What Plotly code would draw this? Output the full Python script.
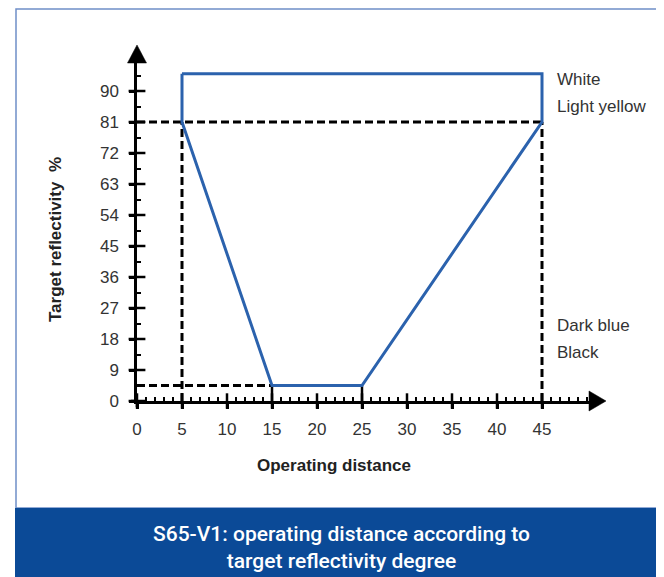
import plotly.graph_objects as go

# ---- data ----
x_ticks = [0, 5, 10, 15, 20, 25, 30, 35, 40, 45]
y_ticks = [0, 9, 18, 27, 36, 45, 54, 63, 72, 81, 90]
# operating area outline (distance, reflectivity %)
area_x = [5, 45, 45, 25, 15, 5, 5]
area_y = [95, 95, 81, 4.5, 4.5, 81, 95]
# dashed reference lines
ref81_x = [0, 45]
ref81_y = [81, 81]
ref_low_x = [0, 15]
ref_low_y = [4.5, 4.5]
vert5_x = [5, 5]
vert5_y = [0, 81]
vert45_x = [45, 45]
vert45_y = [0, 81]
colour_labels = ["White", "Light yellow", "Dark blue", "Black"]
colour_label_y = [93.2, 85.4, 21.8, 14.2]
banner_text = "S65-V1: operating distance according to<br>target reflectivity degree"

OFF = 8  # page body margin
W, H = 664 - OFF, 577 - OFF
ML = 137 - OFF
MT = 62 - OFF
MB = H - (401 - OFF)
MR = W - (591 - OFF)
PW, PH = W - ML - MR, H - MT - MB
XMAX = PW / 9.0
YMAX = PH / (310 / 90)

def px(xp):
    return (xp - OFF - ML) / PW

def py(yp):
    return (H - MB - (yp - OFF)) / PH

blue = "#2b62ad"
FONT = "Liberation Sans, Arial"
fig = go.Figure()

for xs, ys in [(ref81_x, ref81_y), (ref_low_x, ref_low_y), (vert5_x, vert5_y), (vert45_x, vert45_y)]:
    fig.add_trace(go.Scatter(x=xs, y=ys, mode="lines",
                             line=dict(color="black", width=3, dash="8px,4px"),
                             hoverinfo="skip", showlegend=False))
# short solid verticals at 15 and 25
for xv in [15, 25]:
    fig.add_trace(go.Scatter(x=[xv, xv], y=[0, 4.5], mode="lines",
                             line=dict(color="black", width=2.5),
                             hoverinfo="skip", showlegend=False))

fig.add_trace(go.Scatter(x=area_x, y=area_y, mode="lines",
                         line=dict(color=blue, width=3),
                         hoverinfo="skip", showlegend=False))

# major ticks crossing the axes
fig.add_trace(go.Scatter(x=x_ticks, y=[0] * len(x_ticks), mode="markers",
                         marker=dict(symbol="line-ns", size=11, line=dict(color="black", width=2.5)),
                         cliponaxis=False, hoverinfo="skip", showlegend=False))
fig.add_trace(go.Scatter(x=[0] * len(y_ticks), y=y_ticks, mode="markers",
                         marker=dict(symbol="line-ew", size=12, line=dict(color="black", width=2.5)),
                         cliponaxis=False, hoverinfo="skip", showlegend=False))

fig.update_xaxes(range=[0, XMAX], showgrid=False, zeroline=False,
                 showline=True, linecolor="black", linewidth=2.5,
                 tickvals=x_ticks, ticktext=[str(v) for v in x_ticks],
                 ticks="outside", ticklen=5, tickwidth=2.5, tickcolor="black",
                 minor=dict(dtick=1, tick0=0, ticks="inside", ticklen=4, tickwidth=2, tickcolor="black"),
                 tickfont=dict(family=FONT, size=17, color="#333333"),
                 ticklabelstandoff=6, fixedrange=True)
fig.update_yaxes(range=[0, YMAX], showgrid=False, zeroline=False,
                 showline=True, linecolor="black", linewidth=2.5,
                 tickvals=y_ticks, ticktext=[str(v) for v in y_ticks],
                 ticks="outside", ticklen=5, tickwidth=2.5, tickcolor="black",
                 minor=dict(dtick=4.5, tick0=0, ticks="inside", ticklen=4, tickwidth=2, tickcolor="black"),
                 tickfont=dict(family=FONT, size=17, color="#333333"),
                 ticklabelstandoff=7, fixedrange=True)

def tri(points):
    return "M " + " L ".join(f"{px(a):.5f},{py(b):.5f}" for a, b in points) + " Z"

shapes = [
    # outer border
    dict(type="rect", xref="paper", yref="paper", x0=px(16), x1=px(690), y0=py(508), y1=py(9),
         line=dict(color="#6f8fc8", width=1.5), fillcolor="rgba(0,0,0,0)", layer="below"),
    # banner
    dict(type="rect", xref="paper", yref="paper", x0=px(15), x1=px(690), y0=py(620), y1=py(508),
         line=dict(width=0), fillcolor="#0b4a97", layer="below"),
    # small axis overhangs past the origin
    dict(type="line", xref="paper", yref="paper", x0=px(131), x1=px(137), y0=py(401), y1=py(401),
         line=dict(color="black", width=2.5)),
    dict(type="line", xref="paper", yref="paper", x0=px(137), x1=px(137), y0=py(401), y1=py(407),
         line=dict(color="black", width=2.5)),
    # arrow heads
    dict(type="path", xref="paper", yref="paper", path=tri([(137, 45), (127.5, 63), (146.5, 63)]),
         fillcolor="black", line=dict(color="black", width=0.5)),
    dict(type="path", xref="paper", yref="paper", path=tri([(606, 401), (589, 391), (589, 411)]),
         fillcolor="black", line=dict(color="black", width=0.5)),
]

annotations = []
for lab, yv in zip(colour_labels, colour_label_y):
    annotations.append(dict(x=46.4, y=yv, xref="x", yref="y", text=lab, showarrow=False,
                            xanchor="left", yanchor="middle",
                            font=dict(family=FONT, size=17, color="#333333")))
annotations.append(dict(x=px(334), y=py(465), xref="paper", yref="paper", text="<b>Operating distance</b>",
                        showarrow=False, xanchor="center", yanchor="middle",
                        font=dict(family=FONT, size=17, color="#222222")))
annotations.append(dict(x=px(55), y=py(240), xref="paper", yref="paper", text="<b>Target reflectivity  %</b>",
                        showarrow=False, xanchor="center", yanchor="middle", textangle=-90,
                        font=dict(family=FONT, size=17, color="#222222")))
annotations.append(dict(x=px(341), y=py(547), xref="paper", yref="paper", text=banner_text,
                        showarrow=False, xanchor="center", yanchor="middle",
                        font=dict(family="Roboto", size=21, color="white", weight=500)))

fig.update_layout(width=W, height=H, margin=dict(l=ML, r=MR, t=MT, b=MB, autoexpand=False),
                  paper_bgcolor="white", plot_bgcolor="rgba(0,0,0,0)",
                  shapes=shapes, annotations=annotations, showlegend=False)

fig.write_html("out.html")
